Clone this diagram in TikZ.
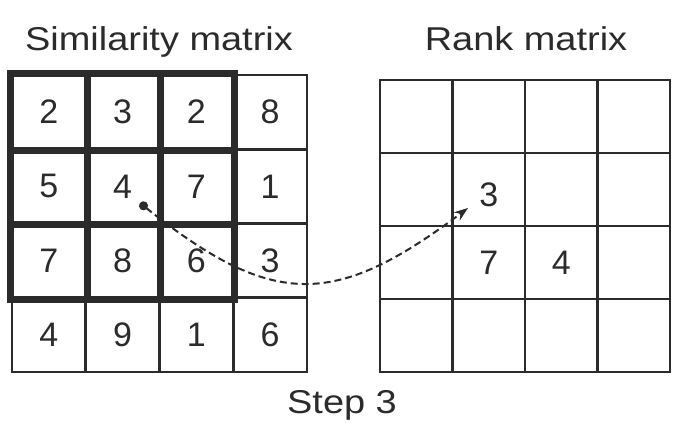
\documentclass[tikz,border=0pt]{standalone}
\usepackage{fontspec}
\setmainfont{Liberation Sans}
\newfontfamily\titlefont{Liberation Sans}[FakeStretch=1.15]
\usetikzlibrary{arrows.meta}
\definecolor{ink}{HTML}{2B2B2B}
\begin{document}
\begin{tikzpicture}[x=1pt,y=-1pt,
  cellL/.style={draw=ink, line width=2.6pt, minimum width=73.75pt, minimum height=74.25pt,
    inner sep=0pt, font=\fontsize{34}{34}\selectfont, text=ink},
  cellR/.style={draw=ink, line width=2.6pt, minimum width=72.5pt, minimum height=73pt,
    inner sep=0pt, font=\fontsize{34}{34}\selectfont, text=ink},
  thickbox/.style={draw=ink, line width=7pt, line cap=square},
  title/.style={anchor=base, text=ink, font=\titlefont\fontsize{33}{33}\selectfont},
  link/.style={draw=ink, line width=2pt, dash pattern=on 7pt off 4pt,
    {Circle[length=9pt]}-{Stealth[length=14pt,width=10pt]}}]
\useasboundingbox (0,0) rectangle (673,426);
\fill[white] (0,0) rectangle (673,426);
% titles
\node[title] (t1) at (159,50) {Similarity matrix};
\node[title] (t2) at (526,50) {Rank matrix};
\node[title] (t3) at (342,413) {Step 3};
% similarity matrix
\foreach \r/\c/\v in {0/0/2,0/1/3,0/2/2,0/3/8,
                      1/0/5,1/1/4,1/2/7,1/3/1,
                      2/0/7,2/1/8,2/2/6,2/3/3,
                      3/0/4,3/1/9,3/2/1,3/3/6}
  \node[cellL] (L\r\c) at ({12+73.75*(\c+0.5)},{75+74.25*(\r+0.5)}) {\v};
% rank matrix
\foreach \r in {0,...,3}
  \foreach \c in {0,...,3}
    \node[cellR] (R\r\c) at ({380+72.5*(\c+0.5)},{80+73*(\r+0.5)}) {};
\node[font=\fontsize{34}{34}\selectfont, text=ink] (r3) at ([yshift=-5pt]R11.center) {3};
\node[font=\fontsize{34}{34}\selectfont, text=ink] (r7) at (R21.center) {7};
\node[font=\fontsize{34}{34}\selectfont, text=ink] (r4) at (R22.center) {4};
% thick 3x3 window
\draw[thickbox] (L00.north west) rectangle (L22.south east);
\draw[thickbox] (L00.north east) -- (L20.south east);
\draw[thickbox] (L01.north east) -- (L21.south east);
\draw[thickbox] (L00.south west) -- (L02.south east);
\draw[thickbox] (L10.south west) -- (L12.south east);
% connector
\coordinate (s) at (140,203);
\coordinate (e) at (468,208);
\draw[link] (s) .. controls (273,309) and (335,308) .. (e);
\end{tikzpicture}
\end{document}
